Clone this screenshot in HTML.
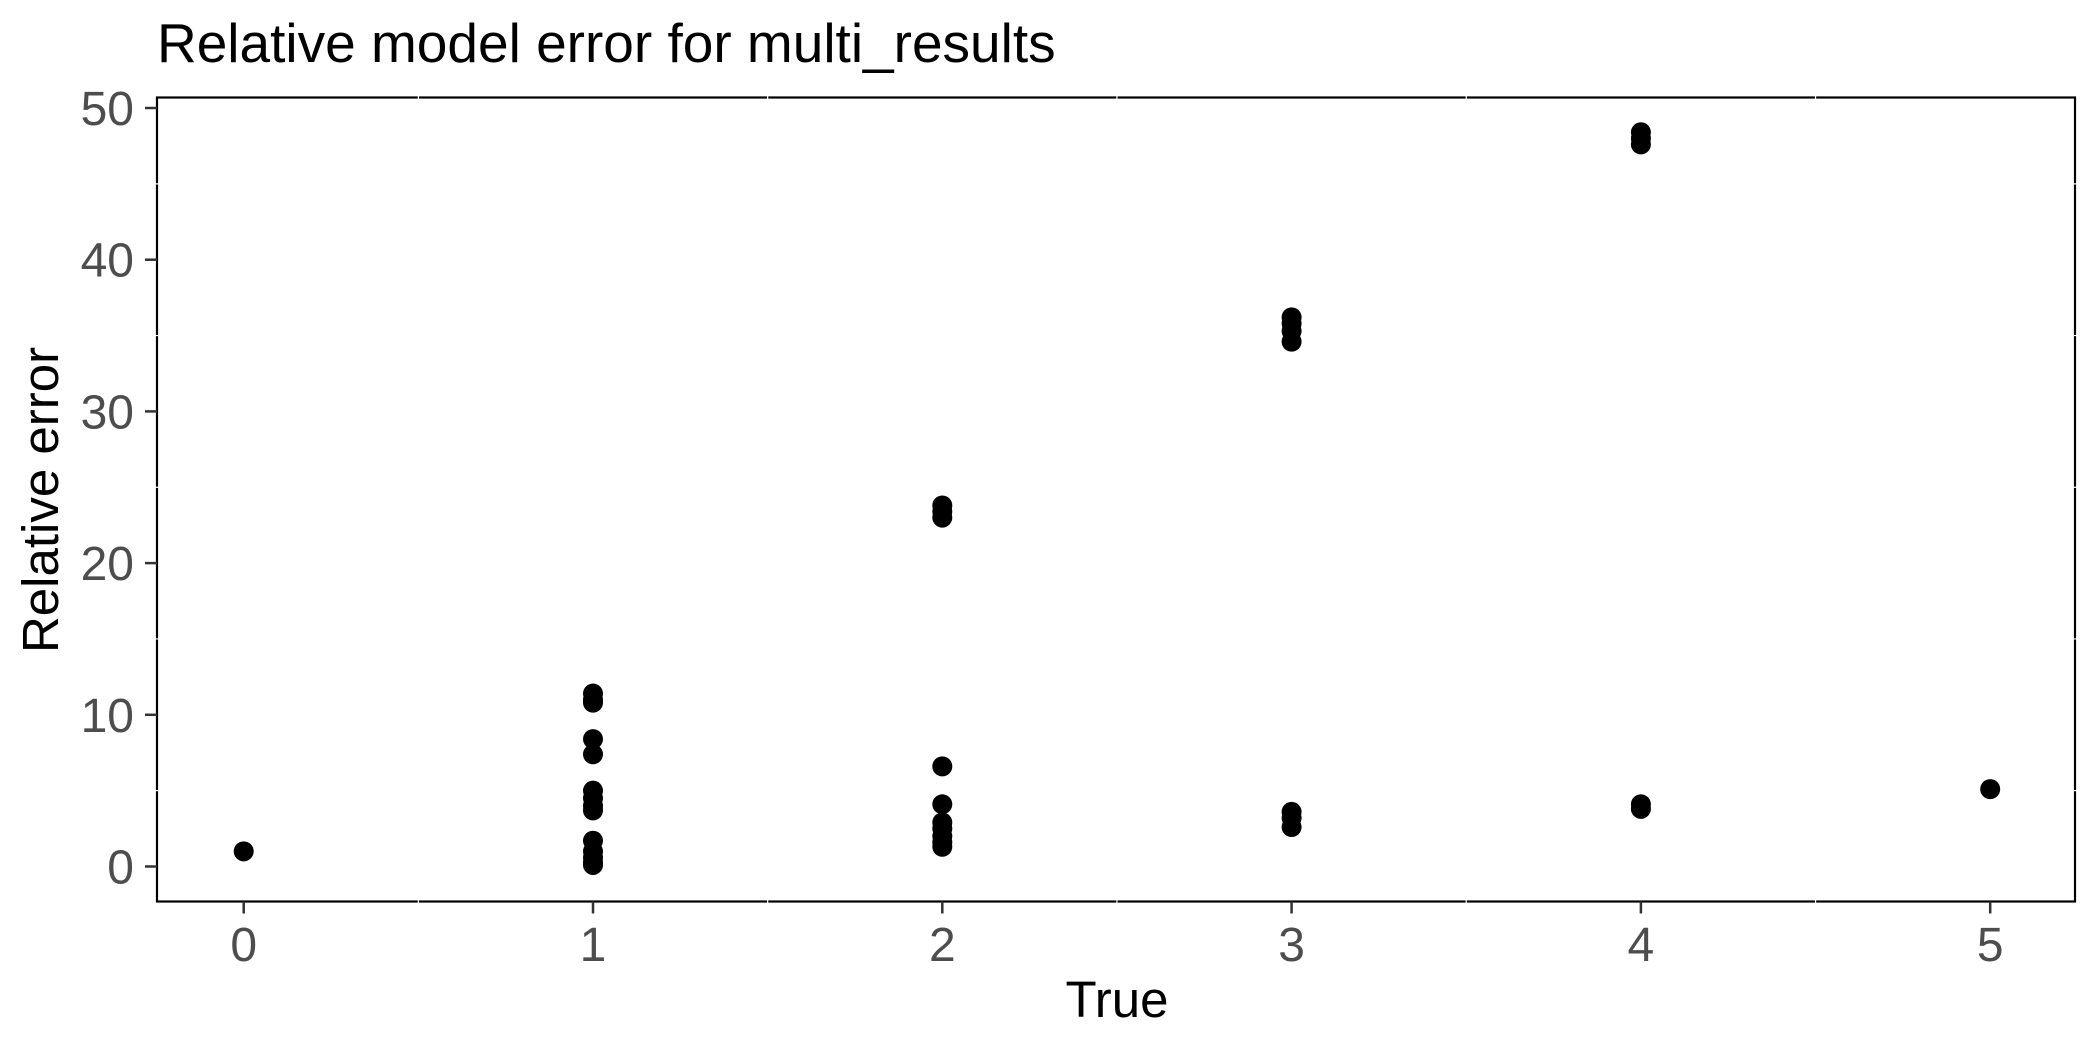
<!DOCTYPE html>
<html><head><meta charset="utf-8">
<style>
html,body{margin:0;padding:0;background:#fff;}
svg{display:block;font-family:"Liberation Sans",sans-serif;}
</style></head>
<body>
<svg id="chart" width="2100" height="1050" viewBox="0 0 2100 1050" xmlns="http://www.w3.org/2000/svg">
<rect x="0" y="0" width="2100" height="1050" fill="#fff"/>
<text x="157" y="62" font-size="55" fill="#000">Relative model error for multi_results</text>
<text transform="translate(58,500) rotate(-90)" text-anchor="middle" font-size="51" fill="#000">Relative error</text>
<text x="1117" y="1017" text-anchor="middle" font-size="51" fill="#000">True</text>
<g id="grid"></g>
<rect x="157" y="97.5" width="1918" height="804" fill="none" stroke="#000" stroke-width="2.2"/>
<g id="gridover"></g>
<g id="axes"></g>
<g id="points"></g>
</svg>
<script>
const xCats = [0, 1, 2, 3, 4, 5];
const xTicks = ["0", "1", "2", "3", "4", "5"];
const yTicks = [0, 10, 20, 30, 40, 50];
const ptX = [0,
  1,1,1,1,1,1,1,1,1,1,1,1,1,1,
  2,2,2,2,2,2,2,2,2,2,
  3,3,3,3,3,3,3,
  4,4,4,4,4,
  5];
const ptY = [1.0,
  11.4,11.0,10.8,8.4,7.4,5.0,4.5,4.0,3.7,1.7,1.0,0.6,0.3,0.1,
  23.8,23.4,23.0,6.6,4.1,2.9,2.5,2.0,1.6,1.3,
  36.2,35.8,35.3,34.6,3.6,3.2,2.6,
  48.4,48.0,47.6,4.1,3.8,
  5.1];

const NS = "http://www.w3.org/2000/svg";
function xs(v){ return 243.7 + v * 349.3; }
function ys(v){ return 866.5 - v * 15.17; }
function mk(tag, attrs, parent){
  const e = document.createElementNS(NS, tag);
  for (const k in attrs) e.setAttribute(k, attrs[k]);
  parent.appendChild(e);
  return e;
}
const L = 157, R = 2075, T = 97.5, B = 901.5;
const gover = document.getElementById('gridover');
const axes = document.getElementById('axes');
const pts = document.getElementById('points');

for (let i = 0; i < xCats.length - 1; i++) {
  const mx = xs((xCats[i] + xCats[i+1]) / 2);
  const l = mk('line', {x1: mx, x2: mx, y1: T - 2, y2: B + 2, stroke: '#fff', 'stroke-width': 1.2}, gover);
  
  
}
for (let i = 0; i < yTicks.length; i++) {
  const mv = yTicks[i] + 5;
  if (ys(mv) < T) continue;
  const l = mk('line', {x1: L - 2, x2: R + 2, y1: ys(mv), y2: ys(mv), stroke: '#fff', 'stroke-width': 1.2}, gover);
  
  
}

for (let i = 0; i < xCats.length; i++) {
  const x = xs(xCats[i]);
  const t = mk('line', {x1: x, x2: x, y1: B, y2: B + 12, stroke: '#333', 'stroke-width': 2.5}, axes);
  
  
  const lb = mk('text', {x: x, y: 961, 'text-anchor': 'middle', 'font-size': 48, fill: '#4d4d4d'}, axes);
  lb.textContent = xTicks[i];
  
  
}
for (let i = 0; i < yTicks.length; i++) {
  const y = ys(yTicks[i]);
  const t = mk('line', {x1: L - 12, x2: L, y1: y, y2: y, stroke: '#333', 'stroke-width': 2.5}, axes);
  
  
  const lb = mk('text', {x: 134, y: y + 17, 'text-anchor': 'end', 'font-size': 48, fill: '#4d4d4d'}, axes);
  lb.textContent = String(yTicks[i]);
  
  
}
for (let i = 0; i < ptX.length; i++) {
  const c = mk('circle', {cx: xs(ptX[i]), cy: ys(ptY[i]), r: 10, fill: '#000'}, pts);
  
  
}
</script>
</body></html>
